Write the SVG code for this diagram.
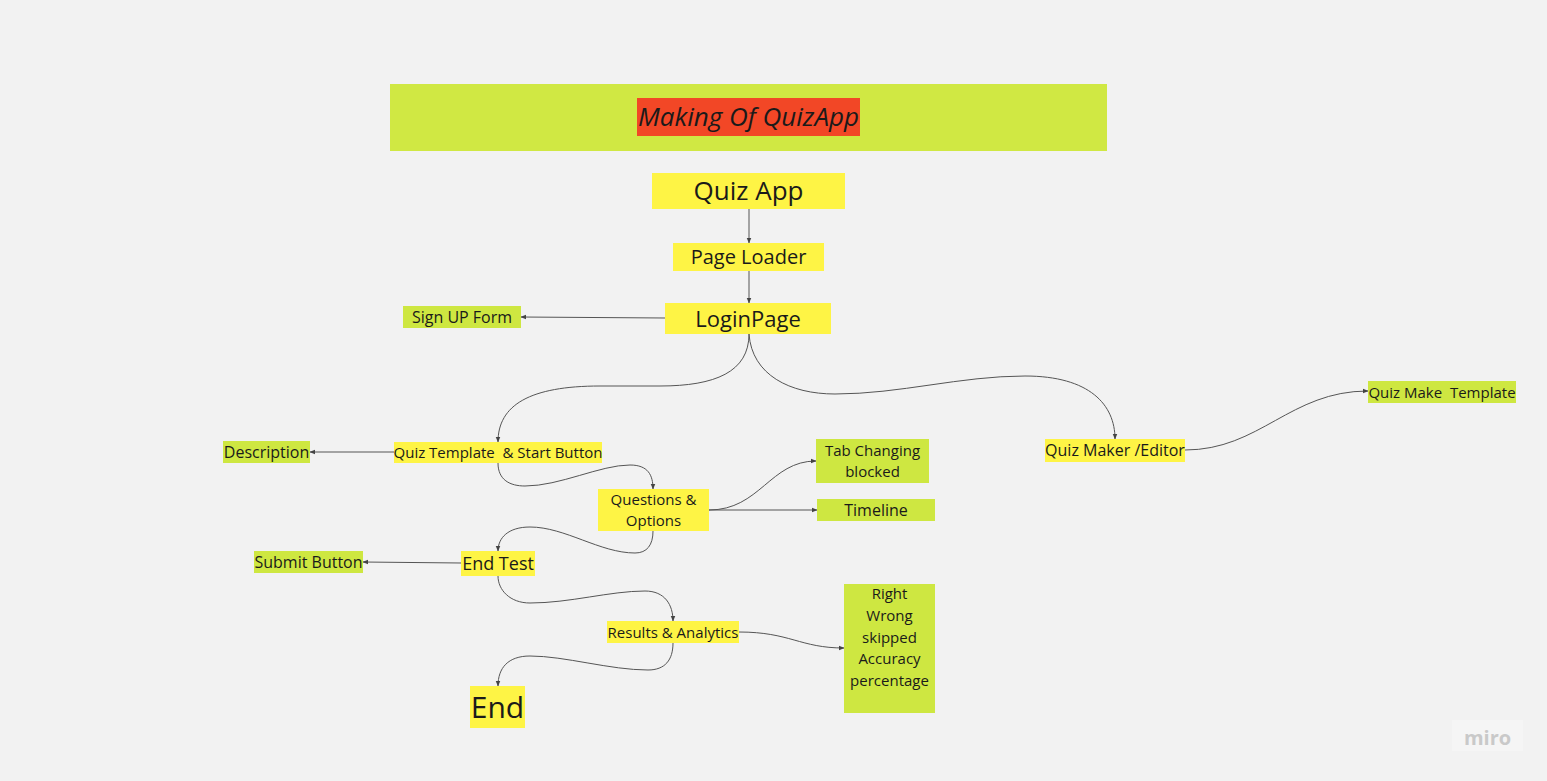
<svg xmlns="http://www.w3.org/2000/svg" width="1547" height="781" viewBox="0 0 1547 781">
<defs>
<marker id="ah" viewBox="0 0 10 10" refX="9" refY="5" markerWidth="6" markerHeight="6" orient="auto-start-reverse" markerUnits="userSpaceOnUse"><path d="M0,1 L10,5 L0,9 z" fill="#444"/></marker>
<style>
text{font-family:"Open Sans","Noto Sans",sans-serif;fill:#1a1a1a;text-anchor:middle;dominant-baseline:central;white-space:pre}
.y{fill:#fef445}
.g{fill:#cee741}
.c{fill:none;stroke:#555;stroke-width:1;marker-end:url(#ah)}
</style>
</defs>
<rect width="1547" height="781" fill="#f2f2f2"/>
<g id="title">
<rect x="390" y="84" width="717" height="67" fill="#d0e843"/>
<rect x="637" y="98" width="223" height="38" fill="#f24726"/>
<text x="748.5" y="116" font-size="26" font-style="italic">Making Of QuizApp</text>
</g>
<g id="connectors">
<path class="c" d="M749,209 L749,243"/>
<path class="c" d="M749,271 L749,303"/>
<path class="c" d="M665,318 L521,317"/>
<path class="c" d="M749,334 C749,372 715,386 660,386 L600,386 C530,386 498,405 498,442"/>
<path class="c" d="M749,334 C752,375 790,394 835,394 C900,394 960,376 1025,376 C1090,376 1115,405 1115,439"/>
<path class="c" d="M394,452 L310,452"/>
<path class="c" d="M498,463 C498,480 510,486 525,486 C560,486 600,465 630,465 C648,465 653,475 653,489"/>
<path class="c" d="M709,510 L817,510"/>
<path class="c" d="M709,510 C760,510 770,461 816,461"/>
<path class="c" d="M653,531 C653,545 647,553 635,553 C600,553 565,527 530,527 C508,527 498,538 498,551"/>
<path class="c" d="M461,563 L363,562"/>
<path class="c" d="M498,576 C498,590 510,603 530,603 C570,603 610,591 645,591 C665,591 673,605 673,621"/>
<path class="c" d="M739,632 C790,632 800,648 844,648"/>
<path class="c" d="M673,643 C673,660 665,670 648,670 C610,670 565,656 530,656 C508,656 498,668 498,686"/>
<path class="c" d="M1185,450 C1260,450 1290,391 1368,391"/>
</g>
<g id="quiz-app"><rect class="y" x="652" y="173" width="193" height="36"/><text x="748.5" y="190" font-size="26">Quiz App</text></g>
<g id="page-loader"><rect class="y" x="673" y="243" width="151" height="28"/><text x="748.5" y="256" font-size="20">Page Loader</text></g>
<g id="login-page"><rect class="y" x="665" y="303" width="166" height="31"/><text x="748" y="317.5" font-size="22">LoginPage</text></g>
<g id="sign-up"><rect class="g" x="403" y="306" width="118" height="22"/><text x="462" y="316.5" font-size="16">Sign UP Form</text></g>
<g id="quiz-template"><rect class="y" x="394" y="442" width="208" height="21"/><text x="498" y="452" font-size="15" xml:space="preserve">Quiz Template  &amp; Start Button</text></g>
<g id="description"><rect class="g" x="223" y="441" width="87" height="22"/><text x="266.5" y="451.5" font-size="16">Description</text></g>
<g id="questions"><rect class="y" x="598" y="489" width="111" height="42"/><text x="653.5" y="499" font-size="15">Questions &amp;</text><text x="653.5" y="520" font-size="15">Options</text></g>
<g id="tab-changing"><rect class="g" x="816" y="439" width="113" height="44"/><text x="872.5" y="450" font-size="15">Tab Changing</text><text x="872.5" y="471" font-size="15">blocked</text></g>
<g id="timeline"><rect class="g" x="817" y="499" width="118" height="22"/><text x="876" y="509.5" font-size="16">Timeline</text></g>
<g id="end-test"><rect class="y" x="461" y="551" width="74" height="25"/><text x="498" y="563" font-size="18">End Test</text></g>
<g id="submit-button"><rect class="g" x="254" y="551" width="109" height="22"/><text x="308.5" y="561.5" font-size="16">Submit Button</text></g>
<g id="results"><rect class="y" x="607" y="621" width="132" height="22"/><text x="673" y="631.5" font-size="15">Results &amp; Analytics</text></g>
<g id="metrics"><rect class="g" x="844" y="584" width="91" height="129"/>
<text x="889.5" y="593" font-size="15">Right</text>
<text x="889.5" y="615" font-size="15">Wrong</text>
<text x="889.5" y="636.5" font-size="15">skipped</text>
<text x="889.5" y="658" font-size="15">Accuracy</text>
<text x="889.5" y="679.5" font-size="15">percentage</text></g>
<g id="end"><rect class="y" x="470" y="686" width="55" height="42"/><text x="497.5" y="706" font-size="30">End</text></g>
<g id="quiz-maker"><rect class="y" x="1045" y="439" width="140" height="23"/><text x="1115" y="450" font-size="16">Quiz Maker /Editor</text></g>
<g id="quiz-make-template"><rect class="g" x="1368" y="381" width="148" height="22"/><text x="1442" y="391.5" font-size="15" xml:space="preserve">Quiz Make  Template</text></g>
<g id="miro"><rect x="1452" y="720" width="71" height="31" fill="#f5f5f5"/><text x="1487.5" y="737" font-size="20" font-weight="bold" style="fill:#c9c9c9">miro</text></g>
</svg>
